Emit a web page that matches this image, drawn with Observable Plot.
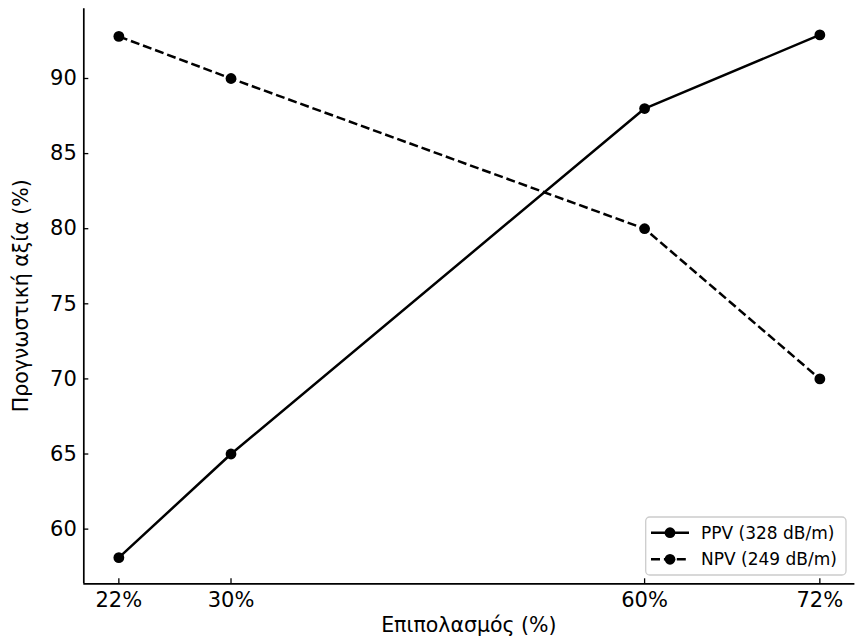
<!DOCTYPE html>
<html>
<head>
<meta charset="utf-8">
<script src="https://cdn.jsdelivr.net/npm/d3@7"></script>
<script src="https://cdn.jsdelivr.net/npm/@observablehq/plot@0.6"></script>
<style>
  html, body { margin: 0; padding: 0; background: #fff; }
  #chart { width: 856px; height: 640px; }
  svg { font-family: "DejaVu Sans", sans-serif; color: #000; }
</style>
</head>
<body>
<div id="chart"></div>
<script>
// Data
const xPositions = [22, 30, 59.5, 72];
const xTickLabels = ["22%", "30%", "60%", "72%"];
const ppvValues = [58.1, 65, 88, 92.9];
const npvValues = [92.8, 90, 80, 70];
const yTicks = [60, 65, 70, 75, 80, 85, 90];
const seriesNames = ["PPV (328 dB/m)", "NPV (249 dB/m)"];
const xTitle = "Επιπολασμός (%)";
const yTitle = "Προγνωστική αξία (%)";

const ppv = xPositions.map((x, i) => ({x, y: ppvValues[i]}));
const npv = xPositions.map((x, i) => ({x, y: npvValues[i]}));

const xDomain = [19.5, 74.5];
const yDomain = [56.36, 94.64];

const W = 856, H = 640;
const mL = 83.3, mR = 1.6, mT = 8.3, mB = 56.7;

const chart = Plot.plot({
  width: W,
  height: H,
  marginLeft: mL,
  marginRight: mR,
  marginTop: mT,
  marginBottom: mB,
  x: {domain: xDomain},
  y: {domain: yDomain},
  style: {fontFamily: "DejaVu Sans, sans-serif", color: "#000", background: "#fff"},
  marks: [
    // spines
    Plot.ruleX([xDomain[0]], {stroke: "#000", strokeWidth: 1.7}),
    Plot.ruleY([yDomain[0]], {stroke: "#000", strokeWidth: 1.7}),
    // tick labels
    Plot.axisX(xPositions, {tickSize: 0, tickPadding: 8.5, fontSize: 21, label: null,
      tickFormat: d => xTickLabels[xPositions.indexOf(d)]}),
    Plot.axisY(yTicks, {tickSize: 0, tickPadding: 7, fontSize: 21, label: null}),
    // inward ticks
    Plot.axisX(xPositions, {tickSize: 5, dy: -5, tickFormat: () => "", label: null, strokeWidth: 1.3}),
    Plot.axisY(yTicks, {tickSize: 5, dx: 5, tickFormat: () => "", label: null, strokeWidth: 1.3}),
    // series
    Plot.line(ppv, {x: "x", y: "y", stroke: "#000", strokeWidth: 2.5}),
    Plot.line(npv, {x: "x", y: "y", stroke: "#000", strokeWidth: 2.5, strokeDasharray: "9,3.9", strokeLinecap: "butt"}),
    Plot.dot(ppv, {x: "x", y: "y", r: 5.4, fill: "#000"}),
    Plot.dot(npv, {x: "x", y: "y", r: 5.4, fill: "#000"})
  ]
});

document.getElementById("chart").appendChild(chart);

const svg = d3.select(chart);

// axis titles
svg.append("text")
  .attr("x", (mL + W - mR) / 2)
  .attr("y", 632.3)
  .attr("text-anchor", "middle")
  .attr("font-size", 20.5)
  .attr("fill", "#000")
  .text(xTitle);

svg.append("text")
  .attr("transform", `translate(27.5,${(mT + H - mB) / 2}) rotate(-90)`)
  .attr("text-anchor", "middle")
  .attr("font-size", 20.5)
  .attr("fill", "#000")
  .text(yTitle);

// legend
const lg = svg.append("g").attr("text-anchor", "start");
lg.append("rect")
  .attr("x", 645.7).attr("y", 517).attr("width", 200.3).attr("height", 58)
  .attr("rx", 4).attr("fill", "#fff").attr("fill-opacity", 0.8)
  .attr("stroke", "#cccccc").attr("stroke-width", 1.3);
const rows = [532.7, 559.3];
seriesNames.forEach((name, i) => {
  const y = rows[i];
  lg.append("line")
    .attr("x1", 651).attr("x2", 689).attr("y1", y).attr("y2", y)
    .attr("stroke", "#000").attr("stroke-width", 2.5)
    .attr("stroke-dasharray", i === 1 ? "9,3.9" : null);
  lg.append("circle").attr("cx", 670).attr("cy", y).attr("r", 5.4).attr("fill", "#000");
  lg.append("text")
    .attr("x", 701).attr("y", y).attr("dy", "0.35em")
    .attr("text-anchor", "start")
    .attr("font-size", 17).attr("fill", "#000")
    .text(name);
});
</script>
</body>
</html>
